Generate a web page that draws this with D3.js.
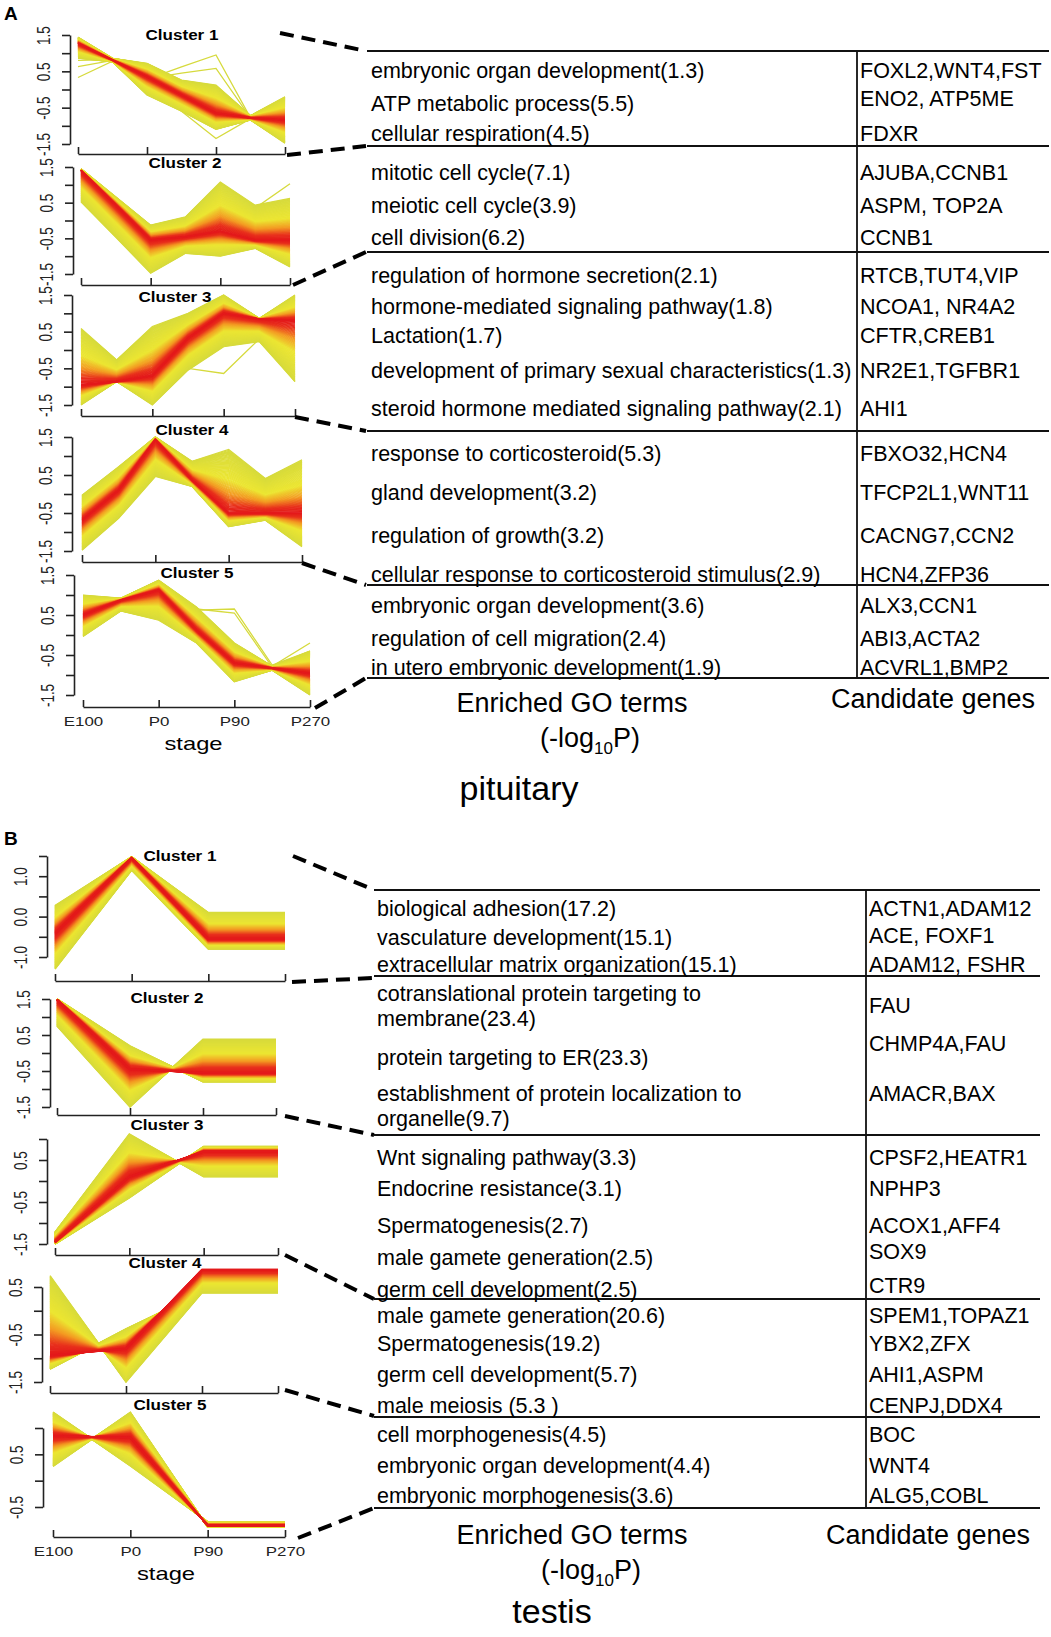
<!DOCTYPE html>
<html>
<head>
<meta charset="utf-8">
<script src="https://cdn.jsdelivr.net/npm/d3@7"></script>
<style>
body { margin: 0; background: #fff; }
text { font-family: "Liberation Sans", Arial, sans-serif; }
</style>
</head>
<body>
<script>
// ---------- data ----------
var stages = ["E100", "P0", "P90", "P270"];

// pituitary: 7 time points, labelled stages at points 0,2,4,6
var pitTicks = [1.5, 1, 0.5, 0, -0.5, -1, -1.5];
var pitTickLabels = [1.5, 0.5, -0.5, -1.5];
var pitCenter = [
  [1.27, 0.81, 0.35, -0.15, -0.65, -0.78, -0.84],
  [1.40, 0.43, -0.55, -0.46, -0.30, -0.55, -0.55],
  [-0.95, -0.86, -0.70, 0.32, 1.00, 0.84, 0.80],
  [-0.69, 0.10, 1.43, 0.37, -0.50, -0.50, -0.50],
  [0.50, 0.87, 1.12, 0.12, -0.70, -0.83, -0.96]
];
var pitUpper = [
  [1.44, 0.86, 0.72, 0.26, 0.12, -0.72, -0.20],
  [1.45, 0.66, -0.13, 0.10, 1.08, 0.43, 0.62],
  [0.59, -0.27, 0.64, 1.00, 1.50, 0.86, 1.50],
  [-0.03, 0.72, 1.50, 0.86, 1.17, 0.41, 0.90],
  [1.00, 0.92, 1.37, 0.70, -0.20, -0.78, -0.40]
];
var pitLower = [
  [0.86, 0.76, -0.15, -0.60, -1.10, -0.84, -1.48],
  [0.52, -0.47, -1.48, -0.92, -1.00, -0.78, -1.30],
  [-1.50, -0.86, -1.50, -0.55, 0.09, 0.23, -0.86],
  [-1.48, -0.64, 0.46, 0.20, -0.86, -0.69, -1.39],
  [-0.04, 0.60, 0.37, -0.20, -1.17, -0.88, -1.50]
];
var pitOutliers = [
  [[0.33, 0.78, 0.28, 0.62, 0.95, -0.78, -1.45], [0.63, 0.80, 0.30, 0.45, 0.58, -0.78, -1.30], [0.80, 0.82, 0.10, -0.60, -1.35, -0.80, -0.45]],
  [[1.10, 0.30, -0.45, -0.10, 0.30, 0.35, 1.03]],
  [[-1.20, -0.86, -1.00, -0.50, -0.64, 0.30, -0.86]],
  [[-0.40, 0.50, 0.55, 0.80, 1.10, 0.30, 0.85]],
  [[0.40, 0.60, 0.50, 0.62, 0.65, -0.75, -0.40], [0.45, 0.70, 0.60, 0.65, 0.55, -0.80, -0.90], [0.80, 0.90, 1.25, 0.20, -0.60, -0.78, -0.20]]
];

// testis: 4 time points
var tesTicks = [
  [1.5, 1, 0.5, 0, -0.5, -1],
  [1.5, 1, 0.5, 0, -0.5, -1, -1.5],
  [1, 0.5, 0, -0.5, -1, -1.5],
  [0.5, 0, -0.5, -1, -1.5],
  [1, 0.5, 0, -0.5]
];
var tesTickLabels = [[1, 0, -1], [1.5, 0.5, -0.5, -1.5], [0.5, -0.5, -1.5], [0.5, -0.5, -1.5], [0.5, -0.5]];
var tesCenter = [
  [-0.42, 1.45, -0.55, -0.55],
  [1.48, -0.45, -0.55, -0.55],
  [-1.45, 0.10, 0.70, 0.70],
  [-0.94, -0.80, 0.87, 0.87],
  [0.85, 0.82, -0.85, -0.85]
];
var tesUpper = [
  [0.27, 1.48, 0.10, 0.10],
  [1.50, 0.20, -0.80, -0.80],
  [-1.22, 1.12, 0.10, 0.10],
  [-1.23, -0.38, 0.38, 0.38],
  [1.30, 0.28, -0.78, -0.78]
];
var tesLower = [
  [-1.30, 1.15, -0.80, -0.80],
  [0.75, -1.50, 0.38, 0.38],
  [-1.50, -0.40, 0.82, 0.82],
  [0.74, -1.50, 0.38, 0.38],
  [0.27, 1.30, -0.88, -0.88]
];

var clusterNames = ["Cluster 1", "Cluster 2", "Cluster 3", "Cluster 4", "Cluster 5"];

var pitTerms = [
  "embryonic organ development(1.3)", "ATP metabolic process(5.5)", "cellular respiration(4.5)",
  "mitotic cell cycle(7.1)", "meiotic cell cycle(3.9)", "cell division(6.2)",
  "regulation of hormone secretion(2.1)", "hormone-mediated signaling pathway(1.8)", "Lactation(1.7)",
  "development of primary sexual characteristics(1.3)", "steroid hormone mediated signaling pathway(2.1)",
  "response to corticosteroid(5.3)", "gland development(3.2)", "regulation of growth(3.2)",
  "cellular response to corticosteroid stimulus(2.9)",
  "embryonic organ development(3.6)", "regulation of cell migration(2.4)", "in utero embryonic development(1.9)"
];
var pitGenes = [
  "FOXL2,WNT4,FST", "ENO2, ATP5ME", "FDXR",
  "AJUBA,CCNB1", "ASPM, TOP2A", "CCNB1",
  "RTCB,TUT4,VIP", "NCOA1, NR4A2", "CFTR,CREB1", "NR2E1,TGFBR1", "AHI1",
  "FBXO32,HCN4", "TFCP2L1,WNT11", "CACNG7,CCN2", "HCN4,ZFP36",
  "ALX3,CCN1", "ABI3,ACTA2", "ACVRL1,BMP2"
];
var tesTerms = [
  "biological adhesion(17.2)", "vasculature development(15.1)", "extracellular matrix organization(15.1)",
  "cotranslational protein targeting to", "membrane(23.4)", "protein targeting to ER(23.3)",
  "establishment of protein localization to", "organelle(9.7)",
  "Wnt signaling pathway(3.3)", "Endocrine resistance(3.1)", "Spermatogenesis(2.7)",
  "male gamete generation(2.5)", "germ cell development(2.5)",
  "male gamete generation(20.6)", "Spermatogenesis(19.2)", "germ cell development(5.7)", "male meiosis (5.3 )",
  "cell morphogenesis(4.5)", "embryonic organ development(4.4)", "embryonic morphogenesis(3.6)"
];
var tesGenes = [
  "ACTN1,ADAM12", "ACE, FOXF1", "ADAM12, FSHR",
  "FAU", "CHMP4A,FAU", "AMACR,BAX",
  "CPSF2,HEATR1", "NPHP3", "ACOX1,AFF4", "SOX9", "CTR9",
  "SPEM1,TOPAZ1", "YBX2,ZFX", "AHI1,ASPM", "CENPJ,DDX4",
  "BOC", "WNT4", "ALG5,COBL"
];

// ---------- layout ----------
var pitBoxes = [
  {x0: 78, x1: 285, v0: 1.5, v1: -1.5, y0: 35, y1: 144, ax: 70, bx: 154, tx: 182, ty: 35},
  {x0: 81, x1: 290, v0: 1.5, v1: -1.5, y0: 167, y1: 274, ax: 73, bx: 285, tx: 185, ty: 163},
  {x0: 81, x1: 295, v0: 1.5, v1: -1.5, y0: 295, y1: 405, ax: 72, bx: 416, tx: 175, ty: 297},
  {x0: 82, x1: 302, v0: 1.5, v1: -1.5, y0: 437, y1: 551, ax: 72, bx: 562, tx: 192, ty: 430},
  {x0: 83, x1: 310, v0: 1.5, v1: -1.5, y0: 575, y1: 695, ax: 74, bx: 707, tx: 197, ty: 573}
];
var tesBoxes = [
  {x0: 55, x1: 285, v0: 1.5, v1: -1.0, y0: 856, y1: 957, ax: 47, bx: 981, tx: 180, ty: 856},
  {x0: 57, x1: 276, v0: 1.5, v1: -1.5, y0: 999, y1: 1107, ax: 50, bx: 1115, tx: 167, ty: 998},
  {x0: 55, x1: 278, v0: 1.0, v1: -1.5, y0: 1139, y1: 1244, ax: 47, bx: 1255, tx: 167, ty: 1125},
  {x0: 50, x1: 278, v0: 0.5, v1: -1.5, y0: 1287, y1: 1382, ax: 42, bx: 1393, tx: 165, ty: 1263},
  {x0: 53, x1: 285, v0: 1.0, v1: -0.5, y0: 1428, y1: 1507, ax: 43, bx: 1537, tx: 170, ty: 1405}
];
var pitConnect = [[280, 33, 366, 51], [287, 155, 366, 146], [293, 285, 366, 252], [295, 417, 366, 431], [302, 563, 366, 585], [315, 708, 366, 678]];
var tesConnect = [[293, 856, 374, 890], [292, 982, 374, 978], [285, 1116, 374, 1135], [285, 1255, 374, 1299], [285, 1390, 374, 1416], [298, 1538, 374, 1508]];

var pitTable = {x0: 367, x1: 1049, div: 857, tx: 371, gx: 860, rules: [51, 146, 252, 431, 585, 678],
  termY: [70, 103, 133, 172, 205, 237, 275, 306, 335, 370, 408, 453, 492, 535, 574, 605, 638, 667],
  geneY: [70, 98, 133, 172, 205, 237, 275, 306, 335, 370, 408, 453, 492, 535, 574, 605, 638, 667],
  foot: {gx: 572, gy: 703, px: 590, py: 738, cx: 933, cy: 699, nx: 519, ny: 788}, name: "pituitary"};
var tesTable = {x0: 374, x1: 1040, div: 866, tx: 377, gx: 869, rules: [890, 976, 1135, 1299, 1417, 1508],
  termY: [908, 937, 964, 993, 1018, 1057, 1093, 1118, 1157, 1188, 1225, 1257, 1289, 1315, 1343, 1374, 1405, 1434, 1465, 1495],
  geneY: [908, 935, 964, 1005, 1043, 1093, 1157, 1188, 1225, 1251, 1285, 1315, 1343, 1374, 1405, 1434, 1465, 1495],
  foot: {gx: 572, gy: 1535, px: 591, py: 1570, cx: 928, cy: 1535, nx: 552, ny: 1611}, name: "testis"};

var svg = d3.select("body").append("svg")
    .attr("width", 1051)
    .attr("height", 1637);

// membership colour: 0 = core (red), 1 = edge (yellow)
var fanColours = ["#e3191b", "#e8301c", "#f39a22", "#ece632", "#d6da3c"];
var fanA = d3.scaleLinear().domain([0, 0.12, 0.3, 0.52, 1]).range(fanColours).interpolate(d3.interpolateRgb);
var fanB = d3.scaleLinear().domain([0, 0.14, 0.33, 0.55, 1]).range(fanColours).interpolate(d3.interpolateRgb);

function drawCluster(box, center, upper, lower, extra, ticks, tickLabels, nPts, tickIdx, showStages, title, nLines, sw, fan) {
  var g = svg.append("g");
  var x = d3.scaleLinear().domain([0, nPts - 1]).range([box.x0, box.x1]);
  var y = d3.scaleLinear().domain([box.v0, box.v1]).range([box.y0, box.y1]);
  var line = d3.line().x(function(d, i) { return x(i); }).y(function(d) { return y(d); });

  g.selectAll("path.extra").data(extra).enter().append("path")
      .attr("d", line)
      .attr("fill", "none")
      .attr("stroke", fan(1))
      .attr("stroke-width", 1.3);

  var profiles = [];
  for (var k = nLines; k >= 0; k--) {
    var t = k / nLines;
    [upper, lower].forEach(function(side) {
      profiles.push({t: t, v: center.map(function(c, i) { return c + t * (side[i] - c); })});
    });
  }
  g.selectAll("path.fan").data(profiles).enter().append("path")
      .attr("d", function(d) { return line(d.v); })
      .attr("fill", "none")
      .attr("stroke", function(d) { return fan(d.t); })
      .attr("stroke-width", sw);

  var yAxis = d3.axisLeft(y).tickValues(ticks).tickSizeInner(8).tickSizeOuter(0)
      .tickFormat(function(d) { return tickLabels.indexOf(d) >= 0 ? d.toFixed(1) : ""; });
  var yg = g.append("g").attr("transform", "translate(" + box.ax + ",0)").call(yAxis);
  yg.attr("font-size", 13.5).attr("font-family", null).attr("color", "#222");
  yg.selectAll("path, line").attr("stroke-width", 1.6);
  yg.selectAll("text")
      .attr("x", 0).attr("dy", null)
      .attr("text-anchor", "middle")
      .attr("fill", "#222")
      .attr("transform", "translate(-20,0) scale(1.3,1) rotate(-90)");

  var xAxis = d3.axisBottom(x).tickValues(tickIdx).tickSizeInner(-7).tickSizeOuter(0)
      .tickFormat(function(d, i) { return showStages ? stages[i] : ""; });
  var xg = g.append("g").attr("transform", "translate(0," + box.bx + ")").call(xAxis);
  xg.attr("font-size", 13).attr("font-family", null).attr("color", "#222");
  xg.selectAll("path, line").attr("stroke-width", 1.6);
  xg.selectAll("text").attr("y", 10).attr("fill", "#222").attr("transform", "scale(1.3,1)");

  g.append("text")
      .text(title)
      .attr("text-anchor", "middle")
      .attr("font-weight", "bold")
      .attr("font-size", 15.5)
      .attr("dy", "0.35em")
      .attr("transform", "translate(" + box.tx + "," + box.ty + ") scale(1.1,1)");

  if (showStages) {
    g.append("text")
        .text("stage")
        .attr("text-anchor", "middle")
        .attr("font-size", 19)
        .attr("dy", "0.35em")
        .attr("transform", "translate(" + ((box.x0 + box.x1) / 2 - 3) + "," + (box.bx + 36) + ") scale(1.25,1)");
  }
}

function drawTable(tb, terms, genes) {
  var g = svg.append("g");
  g.selectAll("line.rule").data(tb.rules).enter().append("line")
      .attr("x1", tb.x0).attr("x2", tb.x1)
      .attr("y1", function(d) { return d; }).attr("y2", function(d) { return d; })
      .attr("stroke", "#111").attr("stroke-width", 2);
  g.append("line")
      .attr("x1", tb.div).attr("x2", tb.div)
      .attr("y1", tb.rules[0]).attr("y2", tb.rules[tb.rules.length - 1])
      .attr("stroke", "#111").attr("stroke-width", 1.8);
  g.selectAll("text.term").data(terms).enter().append("text")
      .text(function(d) { return d; })
      .attr("x", tb.tx)
      .attr("y", function(d, i) { return tb.termY[i]; })
      .attr("dy", "0.35em")
      .attr("font-size", 21.5);
  g.selectAll("text.gene").data(genes).enter().append("text")
      .text(function(d) { return d; })
      .attr("x", tb.gx)
      .attr("y", function(d, i) { return tb.geneY[i]; })
      .attr("dy", "0.35em")
      .attr("font-size", 21.5);

  var f = tb.foot;
  g.append("text").text("Enriched GO terms")
      .attr("x", f.gx).attr("y", f.gy).attr("dy", "0.35em")
      .attr("text-anchor", "middle").attr("font-size", 27);
  var p = g.append("text")
      .attr("x", f.px).attr("y", f.py).attr("dy", "0.35em")
      .attr("text-anchor", "middle").attr("font-size", 27);
  p.append("tspan").text("(-log");
  p.append("tspan").text("10").attr("font-size", 17).attr("dy", 7);
  p.append("tspan").text("P)").attr("dy", -7);
  g.append("text").text("Candidate genes")
      .attr("x", f.cx).attr("y", f.cy).attr("dy", "0.35em")
      .attr("text-anchor", "middle").attr("font-size", 27);
  g.append("text").text(tb.name)
      .attr("x", f.nx).attr("y", f.ny).attr("dy", "0.35em")
      .attr("text-anchor", "middle").attr("font-size", 34);
}

function drawConnectors(list) {
  svg.append("g").selectAll("line").data(list).enter().append("line")
      .attr("x1", function(d) { return d[0]; }).attr("y1", function(d) { return d[1]; })
      .attr("x2", function(d) { return d[2]; }).attr("y2", function(d) { return d[3]; })
      .attr("stroke", "#000")
      .attr("stroke-width", 4)
      .attr("stroke-dasharray", "14,8");
}

// ---------- panel A: pituitary ----------
for (var i = 0; i < 5; i++) {
  drawCluster(pitBoxes[i], pitCenter[i], pitUpper[i], pitLower[i], pitOutliers[i],
      pitTicks, pitTickLabels, 7, [0, 2, 4, 6], i === 4, clusterNames[i], 70, 1.2, fanA);
}
drawTable(pitTable, pitTerms, pitGenes);
drawConnectors(pitConnect);

// ---------- panel B: testis ----------
for (var j = 0; j < 5; j++) {
  drawCluster(tesBoxes[j], tesCenter[j], tesUpper[j], tesLower[j], [],
      tesTicks[j], tesTickLabels[j], 4, [0, 1, 2, 3], j === 4, clusterNames[j], 90, 1.5, fanB);
}
drawTable(tesTable, tesTerms, tesGenes);
drawConnectors(tesConnect);

svg.append("text").text("A")
    .attr("x", 4).attr("y", 20)
    .attr("font-size", 19).attr("font-weight", "bold");
svg.append("text").text("B")
    .attr("x", 4).attr("y", 845)
    .attr("font-size", 19).attr("font-weight", "bold");
</script>
</body>
</html>
